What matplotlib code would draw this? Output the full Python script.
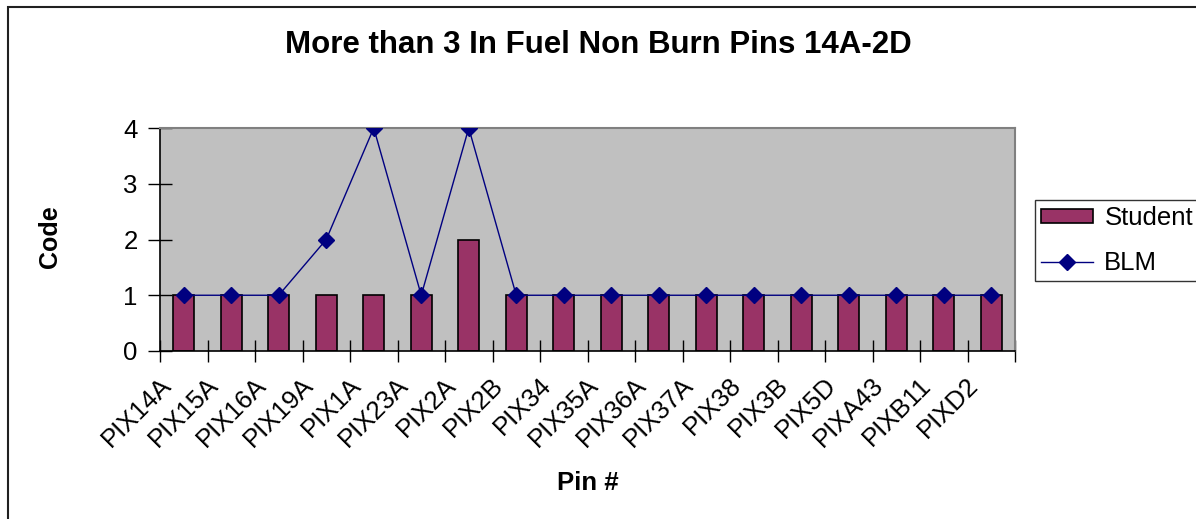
import matplotlib
matplotlib.use("Agg")
import matplotlib.pyplot as plt
from matplotlib.patches import Rectangle
from matplotlib.transforms import ScaledTranslation
import numpy as np

categories = ["PIX14A", "PIX15A", "PIX16A", "PIX19A", "PIX1A", "PIX23A", "PIX2A", "PIX2B",
              "PIX34", "PIX35A", "PIX36A", "PIX37A", "PIX38", "PIX3B", "PIX5D", "PIXA43",
              "PIXB11", "PIXD2"]
student = [1, 1, 1, 1, 1, 1, 2, 1, 1, 1, 1, 1, 1, 1, 1, 1, 1, 1]
blm = [1, 1, 1, 2, 4, 1, 4, 1, 1, 1, 1, 1, 1, 1, 1, 1, 1, 1]
yticks = [0, 1, 2, 3, 4]

plt.rcParams['font.family'] = ['Liberation Sans', 'DejaVu Sans']

W, H = 1196, 519
fig = plt.figure(figsize=(W / 100, H / 100), dpi=100)
fig.patch.set_facecolor('white')

# outer chart border (clipped at right/bottom)
fig.patches.append(Rectangle((7.5 / W, -0.1), 1.2, (H - 7.5) / H + 0.1,
                             transform=fig.transFigure, fill=False,
                             edgecolor='#202020', linewidth=1.5))

ax = fig.add_axes([160 / W, (H - 351) / H, (1015 - 160) / W, (351 - 128) / H])
ax.set_facecolor('#C0C0C0')

x = np.arange(len(categories))
bars = ax.bar(x, student, width=0.44, color='#993366', edgecolor='black', linewidth=1.2,
              label='Student', zorder=2)
line, = ax.plot(x, blm, color='#000080', linewidth=1.0, marker='D', markersize=8.5,
                markerfacecolor='#000080', markeredgecolor='#000080', label='BLM', zorder=3)

ax.set_xlim(-0.5, len(categories) - 0.5)
ax.set_ylim(0, 4)

ax.set_yticks(yticks)
ax.set_yticklabels([str(v) for v in yticks], fontsize=18.5)
ax.tick_params(axis='y', direction='inout', length=17, width=1, pad=7.5)

# category ticks at boundaries, labels drawn at centres (Excel style)
ax.set_xticks(np.arange(len(categories) + 1) - 0.5)
ax.set_xticklabels([])
ax.tick_params(axis='x', direction='inout', length=16, width=1)
lab_tr = ax.get_xaxis_transform() + ScaledTranslation(-0.25, -0.22, fig.dpi_scale_trans)
for xi, cat in zip(x, categories):
    ax.text(xi, 0, cat, transform=lab_tr, fontsize=18.5, rotation=45,
            ha='right', va='top', rotation_mode='anchor', clip_on=False)

for s in ['left', 'bottom']:
    ax.spines[s].set_color('black')
    ax.spines[s].set_linewidth(1.2)
for s in ['top', 'right']:
    ax.spines[s].set_color('#808080')
    ax.spines[s].set_linewidth(1.5)

fig.text(598 / W, 1 - 45 / H, "More than 3 In Fuel Non Burn Pins 14A-2D",
         fontsize=22.5, fontweight='bold', ha='center', va='center')
fig.text(50 / W, 1 - 237 / H, "Code", fontsize=18, fontweight='bold',
         rotation=90, ha='center', va='center')
fig.text(588 / W, 1 - 483 / H, "Pin #", fontsize=18.5, fontweight='bold',
         ha='center', va='center')

leg = ax.legend([bars, line], ['Student', 'BLM'], loc='upper left',
                bbox_to_anchor=(1035 / W, 1 - 200 / H),
                bbox_transform=fig.transFigure, fontsize=18.5, frameon=True,
                fancybox=False, edgecolor='black', borderpad=0.25,
                handlelength=2.0, handleheight=0.45, handletextpad=0.45,
                labelspacing=0.8, borderaxespad=0)
leg.get_frame().set_linewidth(1.0)

fig.savefig("out.png", dpi=100, facecolor='white')
